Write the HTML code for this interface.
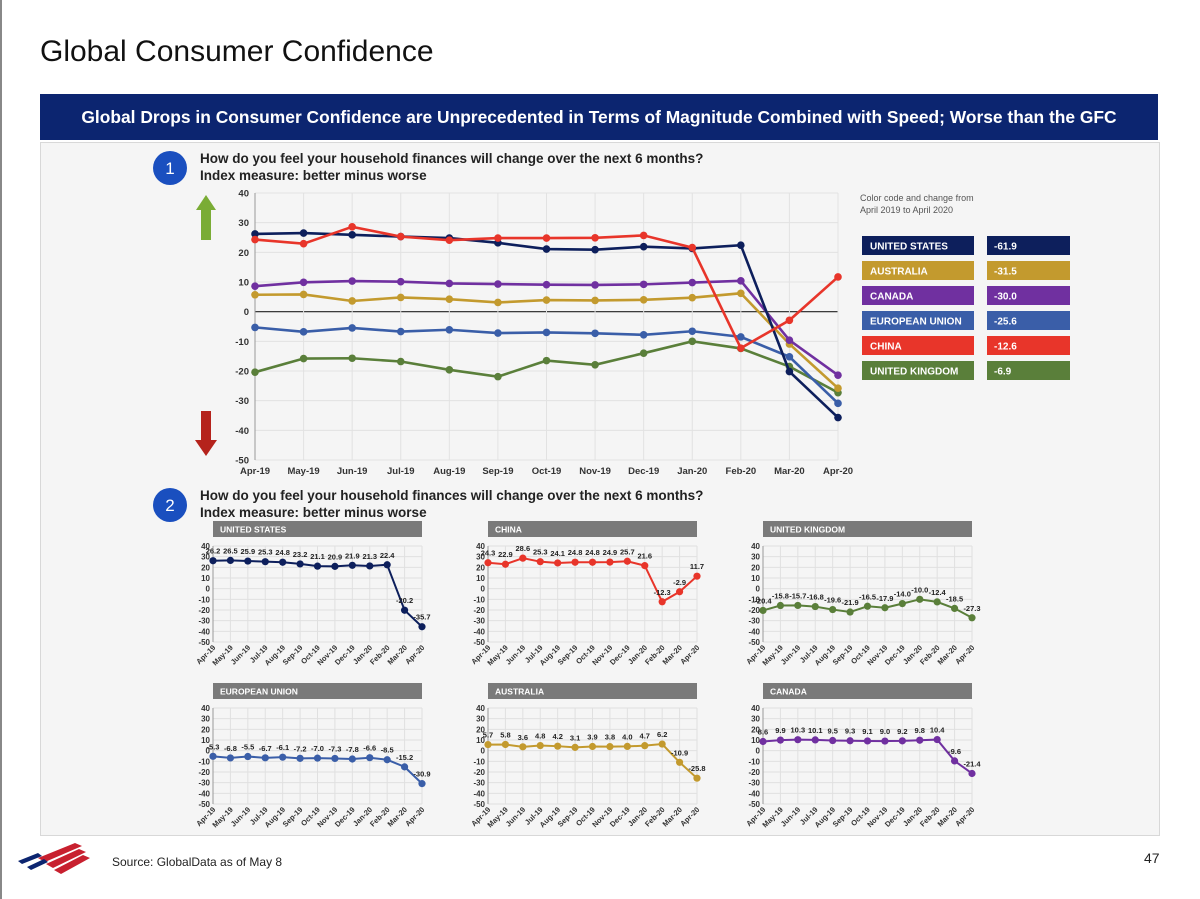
<!DOCTYPE html>
<html><head><meta charset="utf-8"><style>
body{margin:0;width:1200px;height:899px;background:#fff;font-family:"Liberation Sans",sans-serif;overflow:hidden;position:relative}
.abs{position:absolute}
</style></head><body>
<div class="abs" style="left:0;top:0;width:2px;height:899px;background:#888"></div>
<div class="abs" style="left:40px;top:35px;font-size:30px;color:#111">Global Consumer Confidence</div>
<div class="abs" style="left:40px;top:94px;width:1118px;height:46px;background:#0c2570;color:#fff;font-weight:bold;font-size:17.4px;line-height:46px;text-align:center">Global Drops in Consumer Confidence are Unprecedented in Terms of Magnitude Combined with Speed; Worse than the GFC</div>
<div class="abs" style="left:40px;top:142px;width:1118px;height:692px;background:#f5f5f5;border:1px solid #d8d8d8"></div>
<svg class="abs" style="left:0;top:0" width="1200" height="899" id="svg"></svg>
<div class="abs" style="left:112px;top:855px;font-size:12px;color:#222">Source: GlobalData as of May 8</div>
<div class="abs" style="left:1144px;top:850px;font-size:14px;color:#222">47</div>
<script>
const months=["Apr-19","May-19","Jun-19","Jul-19","Aug-19","Sep-19","Oct-19","Nov-19","Dec-19","Jan-20","Feb-20","Mar-20","Apr-20"];
const yTicks=[40,30,20,10,0,-10,-20,-30,-40,-50];
const usVals=[26.2,26.5,25.9,25.3,24.8,23.2,21.1,20.9,21.9,21.3,22.4,-20.2,-35.7];
const cnVals=[24.3,22.9,28.6,25.3,24.1,24.8,24.8,24.9,25.7,21.6,-12.3,-2.9,11.7];
const ukVals=[-20.4,-15.8,-15.7,-16.8,-19.6,-21.9,-16.5,-17.9,-14.0,-10.0,-12.4,-18.5,-27.3];
const euVals=[-5.3,-6.8,-5.5,-6.7,-6.1,-7.2,-7.0,-7.3,-7.8,-6.6,-8.5,-15.2,-30.9];
const auVals=[5.7,5.8,3.6,4.8,4.2,3.1,3.9,3.8,4.0,4.7,6.2,-10.9,-25.8];
const caVals=[8.6,9.9,10.3,10.1,9.5,9.3,9.1,9.0,9.2,9.8,10.4,-9.6,-21.4];
const legendNames=["UNITED STATES","AUSTRALIA","CANADA","EUROPEAN UNION","CHINA","UNITED KINGDOM"];
const legendChanges=["-61.9","-31.5","-30.0","-25.6","-12.6","-6.9"];
const C={us:"#0d1f5c",au:"#c39a2e",ca:"#7030a0",eu:"#3a5ea8",cn:"#e8352a",uk:"#5a7f3a"};
const svg=document.getElementById('svg');const NS="http://www.w3.org/2000/svg";
function mk(t,a,txt){const e=document.createElementNS(NS,t);for(const k in a)e.setAttribute(k,a[k]);if(txt!=null)e.textContent=txt;svg.appendChild(e);return e;}
// main chart
const mx0=255,mx1=838,my0=193,my1=460;
const mX=i=>mx0+i*(mx1-mx0)/12, mY=v=>my0+(40-v)*(my1-my0)/90;
yTicks.forEach(t=>{let e=mk('line',{x1:mx0,x2:mx1,y1:mY(t),y2:mY(t),stroke:t==0?'#222':'#e2e2e2','stroke-width':t==0?1.2:1});

e=mk('text',{x:mx0-6,y:mY(t)+3.5,'text-anchor':'end','font-size':9.5,'font-weight':'bold',fill:'#333'},t);
});
months.forEach((m,i)=>{let e=mk('line',{x1:mX(i),x2:mX(i),y1:my0,y2:my1,stroke:'#e2e2e2'});

e=mk('text',{x:mX(i),y:my1+14,'text-anchor':'middle','font-size':9.5,'font-weight':'bold',fill:'#333'},m);
});
mk('line',{x1:mx0,x2:mx0,y1:my0,y2:my1,stroke:'#999'});
const mainSeries=[[ukVals,C.uk,'uk'],[euVals,C.eu,'eu'],[auVals,C.au,'au'],[caVals,C.ca,'ca'],[usVals,C.us,'us'],[cnVals,C.cn,'cn']];
mainSeries.forEach(([vals,col,id])=>{
 let e=mk('polyline',{points:vals.map((v,i)=>mX(i)+','+mY(v)).join(' '),fill:'none',stroke:col,'stroke-width':2.6});
 
 vals.forEach((v,i)=>{const c=mk('circle',{cx:mX(i),cy:mY(v),r:3.8,fill:col});
 });
});
// legend
let lt=mk('text',{x:860,y:201,'font-size':9,fill:'#555'},'Color code and change from');
lt=mk('text',{x:860,y:213,'font-size':9,fill:'#555'},'April 2019 to April 2020');
const lcols=[C.us,C.au,C.ca,C.eu,C.cn,C.uk];
legendNames.forEach((n,i)=>{const y=236+i*25;
 let e=mk('rect',{x:862,y:y,width:112,height:19,fill:lcols[i]});
 e=mk('text',{x:870,y:y+13.5,'font-size':10,'font-weight':'bold',fill:'#fff'},n);
 e=mk('rect',{x:987,y:y,width:83,height:19,fill:lcols[i]});
 e=mk('text',{x:994,y:y+13.5,'font-size':10,'font-weight':'bold',fill:'#fff'},legendChanges[i]);
});
// badges and questions
[[168,'1',165],[505,'2',502]].forEach(([cy,n,ty])=>{
 let e=mk('circle',{cx:170,cy:cy,r:17,fill:'#1a4fbf'});
 e=mk('text',{x:170,y:cy+6,'text-anchor':'middle','font-size':17,fill:'#fff'},n);
 e=mk('text',{x:200,y:ty-2,'font-size':13.5,'font-weight':'bold',fill:'#222'},'How do you feel your household finances will change over the next 6 months?');
 e=mk('text',{x:200,y:ty+15,'font-size':13.5,'font-weight':'bold',fill:'#222'},'Index measure: better minus worse');
});
let ar=mk('polygon',{points:'196,210 206,195 216,210 211,210 211,240 201,240 201,210',fill:'#7aac35'});
ar=mk('polygon',{points:'201,411 211,411 211,440 217,440 206,456 195,440 201,440',fill:'#b5231c'});
// small charts
function small(ox,oy,title,vals,col,id){
 const x0=ox,x1=ox+209,y0=oy+25,y1=oy+121;
 const X=i=>x0+i*(x1-x0)/12, Y=v=>y0+(40-v)*(y1-y0)/90;
 let e=mk('rect',{x:ox,y:oy,width:209,height:16,fill:'#7a7a7a'});
 e=mk('text',{x:ox+7,y:oy+11.5,'font-size':8.5,'font-weight':'bold',fill:'#fff'},title);
 yTicks.forEach(t=>{mk('line',{x1:x0,x2:x1,y1:Y(t),y2:Y(t),stroke:'#e0e0e0'});
  const tt=mk('text',{x:x0-3,y:Y(t)+3,'text-anchor':'end','font-size':8,'font-weight':'bold',fill:'#333'},t);
  });
 months.forEach((m,i)=>{mk('line',{x1:X(i),x2:X(i),y1:y0,y2:y1,stroke:'#e0e0e0'});
  const tt=mk('text',{x:X(i)+3,y:y1+6,'text-anchor':'end','font-size':7.5,'font-weight':'bold',fill:'#333',transform:`rotate(-45 ${X(i)+3} ${y1+6})`},m);
  });
 mk('line',{x1:x0,x2:x0,y1:y0,y2:y1,stroke:'#999'});
 e=mk('polyline',{points:vals.map((v,i)=>X(i)+','+Y(v)).join(' '),fill:'none',stroke:col,'stroke-width':2});
 
 vals.forEach((v,i)=>{const c=mk('circle',{cx:X(i),cy:Y(v),r:3.6,fill:col});
  
  const l=mk('text',{x:X(i),y:Y(v)-7,'text-anchor':'middle','font-size':7.5,'font-weight':'bold',fill:'#222'},v.toFixed(1));
  });
}
small(213,521,'UNITED STATES',usVals,C.us,'us');
small(488,521,'CHINA',cnVals,C.cn,'cn');
small(763,521,'UNITED KINGDOM',ukVals,C.uk,'uk');
small(213,683,'EUROPEAN UNION',euVals,C.eu,'eu');
small(488,683,'AUSTRALIA',auVals,C.au,'au');
small(763,683,'CANADA',caVals,C.ca,'ca');
// logo
[0,1,2].forEach(k=>{const e=mk('path',{d:`M${38+k*8} ${858+k*6} L${75+k*4} ${843+k*6} L${82+k*4} ${846+k*6} L${45+k*8} ${862+k*6} Z`,fill:'#c8202f'});});
[0,1].forEach(k=>{const e=mk('path',{d:`M${18+k*9} ${861+k*6} L${38+k*6} ${853+k*6} L${42+k*6} ${856+k*6} L${22+k*9} ${864+k*6} Z`,fill:'#0c2570'});});
</script>
</body></html>
